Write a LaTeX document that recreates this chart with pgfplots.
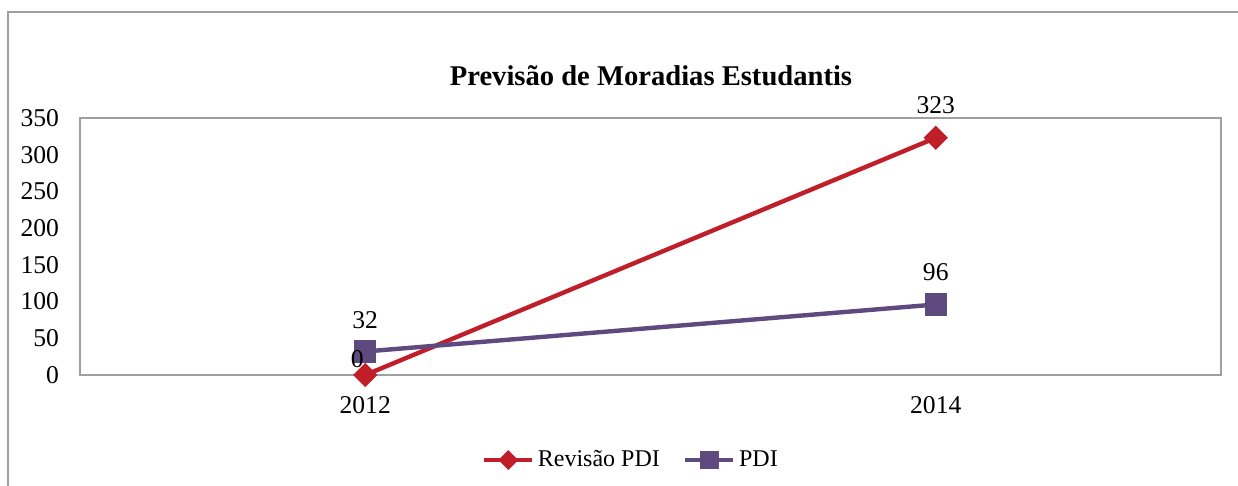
\documentclass[border=0pt]{standalone}
\usepackage{pgfplots}
\pgfplotsset{compat=1.18}
\usepackage{fontspec}
\setmainfont{Liberation Serif}
\definecolor{cred}{RGB}{192,30,40}
\definecolor{cpurp}{RGB}{94,74,126}
\definecolor{cframe}{RGB}{160,160,160}
\begin{document}
\begin{tikzpicture}[x=1pt,y=1pt]
\useasboundingbox (0,0) rectangle (619,243);
\draw[cframe,line width=0.7pt] (4,0) -- (4,237) -- (619,237);
\node[font=\fontsize{14.3}{16}\selectfont\bfseries,anchor=center] at (325.5,205) {Previsão de Moradias Estudantis};
\begin{axis}[
  at={(40pt,55.5pt)}, anchor=south west,
  scale only axis, width=570.5pt, height=128.5pt,
  xmin=-0.5, xmax=1.5, ymin=0, ymax=350,
  xtick={0,1}, xticklabels={2012,2014},
  ytick={0,50,...,350},
  major tick length=0pt,
  axis line style={cframe,line width=0.75pt},
  tick label style={font=\fontsize{12.8}{14}\selectfont},
  /pgf/number format/assume math mode=true,
  xticklabel style={yshift=-7pt},
  yticklabel style={xshift=-7pt},
  clip=false,
  legend columns=2,
  legend style={draw=none, at={(0.484,-0.331)}, anchor=center, font=\fontsize{12}{14}\selectfont, /tikz/every even column/.append style={column sep=10pt}},
  legend image code/.code={\draw[mark repeat=2,mark phase=2,#1,line width=1.6pt] plot coordinates {(0pt,0pt)(12pt,0pt)(24pt,0pt)};},
]
\addplot[cred, line width=2.2pt, mark=square*, mark size=3.2pt, mark options={solid,fill=cred,rotate=45},
  legend image post style={mark size=2.7pt}] coordinates {(0,0) (1,323)};
\addlegendentry{Revisão PDI}
\addplot[cpurp, line width=2.2pt, mark=square*, mark size=4.5pt, mark options={solid,fill=cpurp},
  legend image post style={mark size=3.9pt}] coordinates {(0,32) (1,96)};
\addlegendentry{PDI}
\node[font=\fontsize{12.8}{14}\selectfont] at (axis cs:1,323) [yshift=16.5pt] {323};
\node[font=\fontsize{12.8}{14}\selectfont] at (axis cs:1,96) [yshift=16pt] {96};
\node[font=\fontsize{12.8}{14}\selectfont] at (axis cs:0,32) [yshift=15.5pt] {32};
\coordinate (zero) at (axis cs:0,0);
\end{axis}
\node[font=\fontsize{12.8}{14}\selectfont] at (zero) [xshift=-4pt,yshift=8pt] {0};
\end{tikzpicture}
\end{document}
